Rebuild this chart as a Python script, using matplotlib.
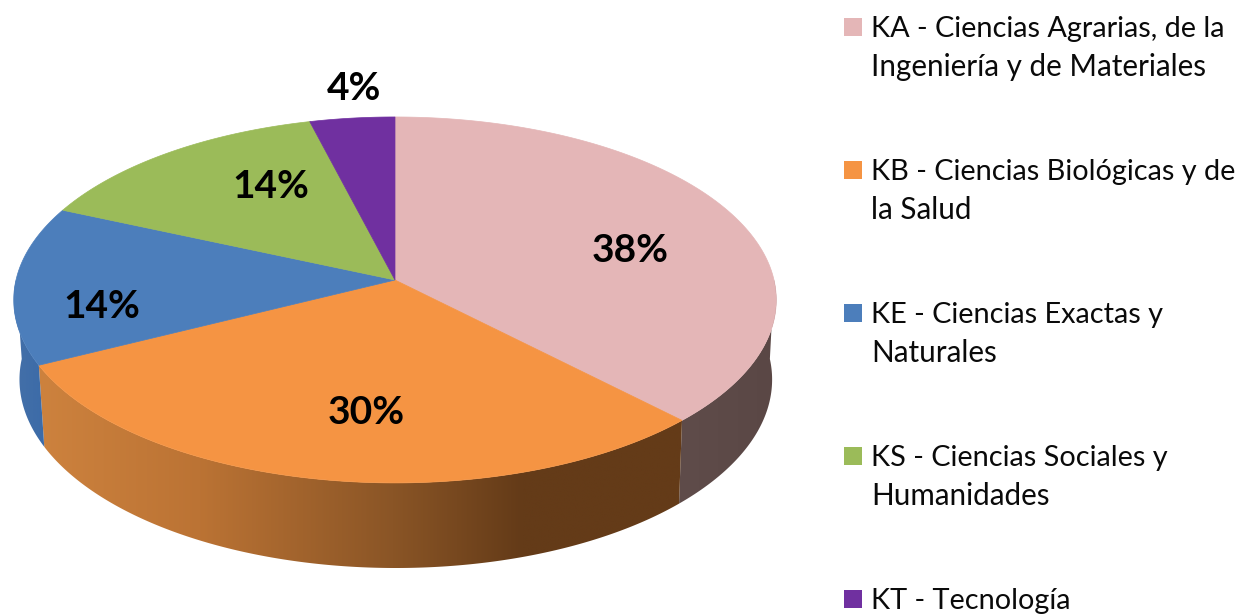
import numpy as np
import matplotlib
matplotlib.use("Agg")
import matplotlib.pyplot as plt
from matplotlib.patches import Polygon, Rectangle
from matplotlib.colors import LinearSegmentedColormap

# chart data, slice sizes (labels are rounded)
codes = ['KA', 'KB', 'KE', 'KS', 'KT']
values = [37.7, 29.9, 14.0, 14.4, 4.0]
legend_lines = [
    ['KA - Ciencias Agrarias, de la', 'Ingeniería y de Materiales'],
    ['KB - Ciencias Biológicas y de', 'la Salud'],
    ['KE - Ciencias Exactas y', 'Naturales'],
    ['KS - Ciencias Sociales y', 'Humanidades'],
    ['KT - Tecnología'],
]
colors = ['#e4b6b7', '#f59443', '#4c7ebb', '#9bbb59', '#7030a0']
label_pos = [(630, 251), (366, 413), (102, 307), (271, 186), (354, 88)]

# perspective of the tilted disc
cx, cy = 395, 280
bx, ay, k = 379, 180.8, 0.109


def project(theta, xscale=1.0, yscale=1.0, dx=0.0, dy=0.0):
    u, v = np.sin(theta), np.cos(theta)
    w = 1 + k * v
    return cx + dx + xscale * bx * u / w, cy + dy - yscale * ay * v / w


def wall(t0, t1):
    t = np.linspace(t0, t1, 200)
    xt, yt = project(t)
    xb, yb = project(t, 0.987, 1.03, 0.8, 79)
    return np.column_stack([np.r_[xt, xb[::-1]], np.r_[yt, yb[::-1]]])


fig = plt.figure(figsize=(12.37, 6.15), dpi=100)
ax = fig.add_axes([0, 0, 1, 1])
ax.set_xlim(0, 1237)
ax.set_ylim(615, 0)
ax.axis('off')

edges = np.r_[0, np.cumsum(values)] / sum(values) * 2 * np.pi

# side walls, only the slices that face the viewer
wall_cmaps = [
    LinearSegmentedColormap.from_list('ka', ['#5f4c4a', '#5a4745']),
    LinearSegmentedColormap.from_list('kb', [(0, '#cd823e'), (0.25, '#bb7334'), (0.55, '#8a5526'),
                                             (0.75, '#643b18'), (1, '#643b18')]),
    LinearSegmentedColormap.from_list('ke', ['#4470a8', '#3c6ba8']),
]
grad = np.linspace(0, 1, 256).reshape(1, -1)
for i, cmap in enumerate(wall_cmaps):
    t0 = edges[i]
    t1 = edges[i + 1]
    if i == 0:
        t0 = np.pi / 2
    if i == 2:
        t1 = 3 * np.pi / 2
    pts = wall(t0, t1)
    poly = Polygon(pts, closed=True, fc='none', ec='none')
    ax.add_patch(poly)
    im = ax.imshow(grad, cmap=cmap, aspect='auto', interpolation='bilinear',
                   extent=[pts[:, 0].min(), pts[:, 0].max(), pts[:, 1].max(), pts[:, 1].min()], zorder=1)
    im.set_clip_path(poly)
ax.set_xlim(0, 1237)
ax.set_ylim(615, 0)

# top of the disc
for i, c in enumerate(colors):
    t = np.linspace(edges[i], edges[i + 1], 200)
    x, y = project(t)
    ax.add_patch(Polygon(np.column_stack([np.r_[cx, x], np.r_[cy, y]]), closed=True,
                         fc=c, ec=c, lw=0.5, zorder=2))

# percent labels
for v, (lx, ly) in zip(values, label_pos):
    ax.text(lx, ly, f'{v:.0f}%', family='Lato', fontweight='bold', fontsize=28,
            ha='center', va='center', color='black', zorder=3)

# legend, first lines a bit smaller since the dash and spaces run wide in Lato
for i, lines in enumerate(legend_lines):
    top = 18 + 143 * i
    ax.add_patch(Rectangle((844, top), 18, 18, fc=colors[i], ec='none'))
    for j, line in enumerate(lines):
        ax.text(871, top + 19 + 39 * j, line, family='Lato', fontsize=20.8 if j == 0 else 21.3,
                ha='left', va='baseline', color='#0a0a0a')

fig.savefig('out.png', dpi=100)
